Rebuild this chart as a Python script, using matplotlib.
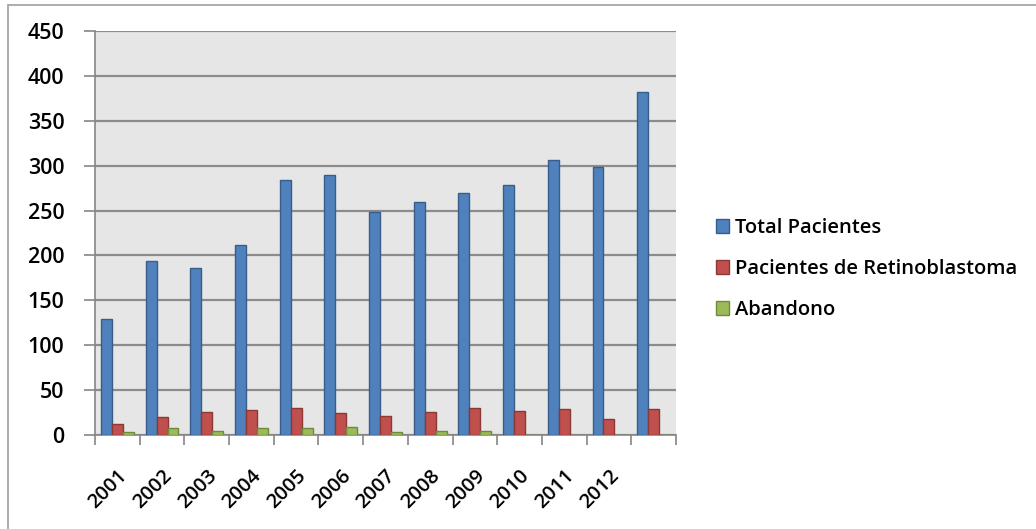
import matplotlib
matplotlib.use("Agg")
import matplotlib.pyplot as plt
from matplotlib.patches import Rectangle
import numpy as np

plt.rcParams["font.family"] = ["Open Sans", "DejaVu Sans"]
plt.rcParams["font.weight"] = "semibold"

years = ["2001", "2002", "2003", "2004", "2005", "2006", "2007",
         "2008", "2009", "2010", "2011", "2012", ""]
totalPacientes = [129, 194, 186, 212, 284, 290, 248, 259, 270, 279, 306, 299, 382]
retinoblastoma = [12, 20, 26, 28, 30, 24, 21, 26, 30, 27, 29, 18, 29]
abandono = [3, 8, 5, 8, 8, 9, 3, 4, 4, 0, 0, 0, 0]

seriesNames = ["Total Pacientes", "Pacientes de Retinoblastoma", "Abandono"]
faceColors = ["#4F81BD", "#C0504D", "#9BBB59"]
edgeColors = ["#385D8A", "#8C3836", "#71893F"]

W, H = 1036, 529
fig = plt.figure(figsize=(W / 100, H / 100), dpi=100)
fig.patches.append(Rectangle((8 / W, -0.1), 1.2, (H - 5) / H + 0.1,
                             transform=fig.transFigure, fill=False,
                             edgecolor="#A0A0A0", linewidth=1.2))

ax = fig.add_axes([95 / W, 1 - 435 / H, (676 - 95) / W, (435 - 31) / H])
ax.set_facecolor("#E6E6E6")

x = np.arange(len(years))
barW = 0.245
for i, (vals, fc, ec, name) in enumerate(zip(
        [totalPacientes, retinoblastoma, abandono], faceColors, edgeColors, seriesNames)):
    ax.bar(x + (i - 1) * barW, vals, barW, color=fc, edgecolor=ec,
           linewidth=1.0, label=name, zorder=3)

ax.set_xlim(-0.5, len(years) - 0.5)
ax.set_ylim(0, 450)
ax.set_yticks(np.arange(0, 451, 50))
ax.yaxis.grid(True, color="#8C8C8C", linewidth=1.6, zorder=1)
ax.set_axisbelow(True)

ax.set_xticks(np.arange(-0.5, len(years)), minor=False)
ax.set_xticklabels([])
ax.set_xticks(x, minor=True)
ax.set_xticklabels(years, minor=True, rotation=45, ha="right",
                   rotation_mode="anchor", fontsize=14.5)
ax.tick_params(axis="x", which="minor", length=0, pad=22)
ax.tick_params(axis="x", which="major", length=7, color="#868686", width=1.2)
ax.tick_params(axis="y", length=8, color="#868686", width=1.2, labelsize=15.5, pad=14)

for side in ["top", "right"]:
    ax.spines[side].set_visible(False)
for side in ["left", "bottom"]:
    ax.spines[side].set_color("#868686")
    ax.spines[side].set_linewidth(1.2)

ax.legend(loc="center left", bbox_to_anchor=(698 / W, 1 - 269 / H),
          bbox_transform=fig.transFigure, frameon=False, fontsize=14.5,
          handlelength=0.65, handleheight=0.65, handletextpad=0.3,
          labelspacing=1.05)

fig.savefig("out.png", dpi=100)
